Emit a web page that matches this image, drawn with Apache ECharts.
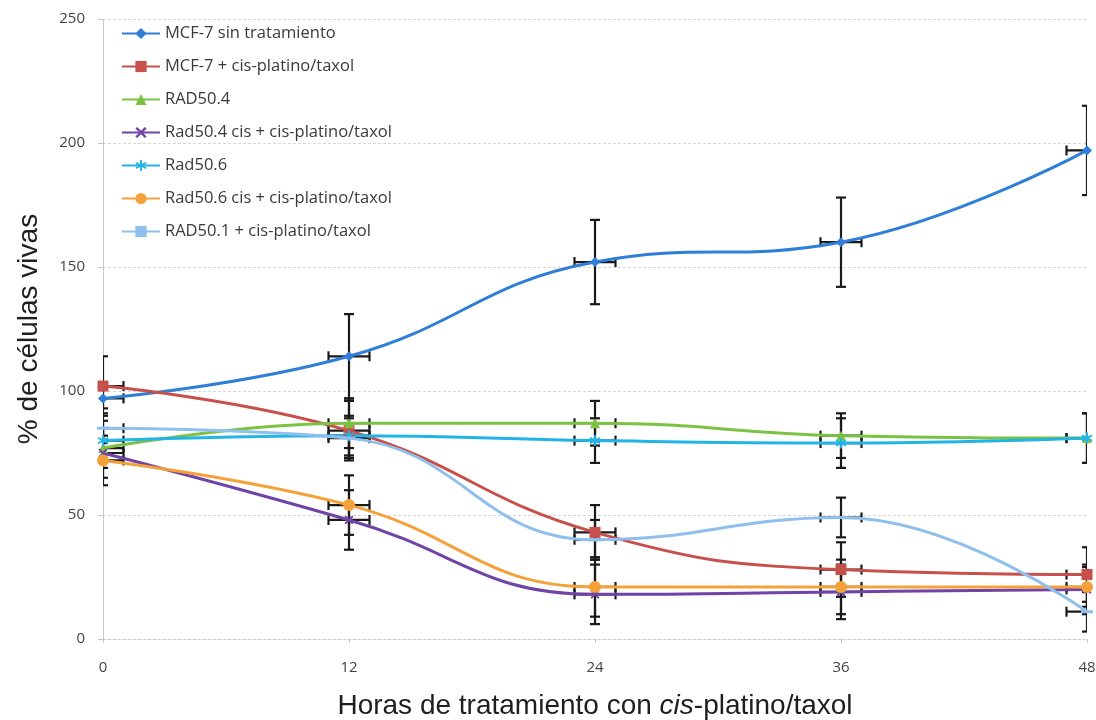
<!DOCTYPE html>
<html>
<head>
<meta charset="utf-8">
<script src="https://cdn.jsdelivr.net/npm/echarts@6/dist/echarts.min.js"></script>
<style>
  html, body { margin: 0; padding: 0; background: #fff; }
  #chart { width: 1096px; height: 720px; }
</style>
</head>
<body>
<div id="chart"></div>
<script>
// Hours of treatment (x axis)
const hours = [0, 12, 24, 36, 48];
const xTicks = [0, 12, 24, 36, 48];
const yTicks = [0, 50, 100, 150, 200, 250];

// Series names
const names = [
  'MCF-7 sin tratamiento',
  'MCF-7 + cis-platino/taxol',
  'RAD50.4',
  'Rad50.4 cis + cis-platino/taxol',
  'Rad50.6',
  'Rad50.6 cis + cis-platino/taxol',
  'RAD50.1 + cis-platino/taxol'
];

// % live cells per series, with vertical error (±) at each hour
const mcf7 = [97, 114, 152, 160, 197];
const mcf7Err = [4, 17, 17, 18, 18];
const mcf7Tx = [102, 84, 43, 28, 26];
const mcf7TxErr = [12, 12, 11, 11, 11];
const rad504 = [77, 87, 87, 82, 81];
const rad504Err = [8, 10, 9, 9, 10];
const rad504Tx = [75, 48, 18, 19, 20];
const rad504TxErr = [10, 12, 12, 11, 10];
const rad506 = [80, 82, 80, 79, 81];
const rad506Err = [8, 8, 9, 10, 10];
const rad506Tx = [72, 54, 21, 21, 21];
const rad506TxErr = [10, 12, 12, 11, 8];
const rad501Tx = [85, 81, 40, 49, 11];
const rad501TxErr = [6, 8, 8, 8, 8];

// Horizontal error (± hours) at each time point
const hourErr = [1, 1, 1, 1, 1];

const values = [mcf7, mcf7Tx, rad504, rad504Tx, rad506, rad506Tx, rad501Tx];
const errors = [mcf7Err, mcf7TxErr, rad504Err, rad504TxErr, rad506Err, rad506TxErr, rad501TxErr];

const colors = ['#2f7ed8', '#c8504c', '#7cc242', '#7044a6', '#22b4e6', '#f5a13a', '#8fbfec'];
const symbols = [
  'diamond',
  'rect',
  'triangle',
  'path://M0,1.5L1.5,0L5,3.5L8.5,0L10,1.5L6.5,5L10,8.5L8.5,10L5,6.5L1.5,10L0,8.5L3.5,5Z',
  'path://M4.2,0H5.8V3.6L8.9,1.8L9.7,3.2L6.6,5L9.7,6.8L8.9,8.2L5.8,6.4V10H4.2V6.4L1.1,8.2L0.3,6.8L3.4,5L0.3,3.2L1.1,1.8L4.2,3.6Z',
  'circle',
  'rect'
];
const symbolSizes = [10, 11, 10, 9, 11, 12, [12, 3]];

const lineSeries = names.map((name, i) => ({
  name: name,
  type: 'line',
  data: hours.map((h, k) => [h, values[i][k]]),
  smooth: 0.45,
  symbol: symbols[i],
  symbolSize: symbolSizes[i],
  showSymbol: true,
  lineStyle: { color: colors[i], width: 3 },
  itemStyle: { color: colors[i] },
  z: 4,
  emphasis: { disabled: true }
}));

// Black error bars (vertical and horizontal, with caps)
function errorSeries(i) {
  return {
    type: 'custom',
    name: names[i] + ' err',
    data: hours.map((h, k) => [h, values[i][k], errors[i][k], hourErr[k]]),
    clip: true,
    z: 3,
    silent: true,
    renderItem: function (params, api) {
      const x = api.value(0), y = api.value(1), ey = api.value(2), ex = api.value(3);
      const top = api.coord([x, y + ey]);
      const bot = api.coord([x, y - ey]);
      const lft = api.coord([x - ex, y]);
      const rgt = api.coord([x + ex, y]);
      const cap = 5;
      const style = { stroke: '#1a1a1a', lineWidth: 2.2 };
      const seg = (x1, y1, x2, y2) => ({ type: 'line', shape: { x1, y1, x2, y2 }, style });
      return {
        type: 'group',
        children: [
          seg(top[0], top[1], bot[0], bot[1]),
          seg(top[0] - cap, top[1], top[0] + cap, top[1]),
          seg(bot[0] - cap, bot[1], bot[0] + cap, bot[1]),
          seg(lft[0], lft[1], rgt[0], rgt[1]),
          seg(lft[0], lft[1] - cap, lft[0], lft[1] + cap),
          seg(rgt[0], rgt[1] - cap, rgt[0], rgt[1] + cap)
        ]
      };
    }
  };
}

const errSeries = names.map((n, i) => errorSeries(i));

const chart = echarts.init(document.getElementById('chart'), null, { renderer: 'canvas' });
chart.setOption({
  animation: false,
  backgroundColor: '#ffffff',
  grid: { left: 103, right: 9, top: 19, bottom: 81, containLabel: false, outerBoundsMode: 'none' },
  legend: {
    data: names,
    orient: 'vertical',
    left: 116,
    top: 20,
    itemWidth: 38,
    itemHeight: 14,
    itemGap: 16,
    textStyle: { fontFamily: '"Open Sans", Lato, sans-serif', fontSize: 16.5, color: '#3a3a3a' },
    selectedMode: false
  },
  xAxis: {
    type: 'value',
    min: xTicks[0],
    max: xTicks[xTicks.length - 1],
    interval: 12,
    axisLine: { show: true, lineStyle: { color: '#cfcfcf', width: 1, type: [3, 2] } },
    axisTick: { show: true, length: 4, lineStyle: { color: '#c8c8c8' } },
    splitLine: { show: false },
    axisLabel: { fontFamily: '"Open Sans", Lato, sans-serif', fontSize: 15, color: '#444', margin: 21 },
    name: 'Horas de tratamiento con {i|cis}-platino/taxol',
    nameLocation: 'middle',
    nameGap: 53,
    nameTextStyle: {
      fontFamily: '"Liberation Sans", Arial, sans-serif',
      fontSize: 28,
      color: '#1e1e1e',
      rich: {
        i: { fontFamily: '"Liberation Sans", Arial, sans-serif', fontSize: 28, fontStyle: 'italic', color: '#1e1e1e' }
      }
    }
  },
  yAxis: {
    type: 'value',
    min: yTicks[0],
    max: yTicks[yTicks.length - 1],
    interval: 50,
    axisLine: { show: true, lineStyle: { color: '#c8c8c8', width: 1 } },
    axisTick: { show: true, length: 5, lineStyle: { color: '#c8c8c8' } },
    splitLine: { show: true, lineStyle: { color: '#d6d6d6', type: [3, 2], width: 1 } },
    axisLabel: { fontFamily: '"Open Sans", Lato, sans-serif', fontSize: 15, color: '#444', margin: 18 },
    name: '% de células vivas',
    nameLocation: 'middle',
    nameGap: 60,
    nameRotate: 90,
    nameTextStyle: { fontFamily: '"Liberation Sans", Arial, sans-serif', fontSize: 28, color: '#1e1e1e' }
  },
  series: errSeries.concat(lineSeries)
});
</script>
</body>
</html>
